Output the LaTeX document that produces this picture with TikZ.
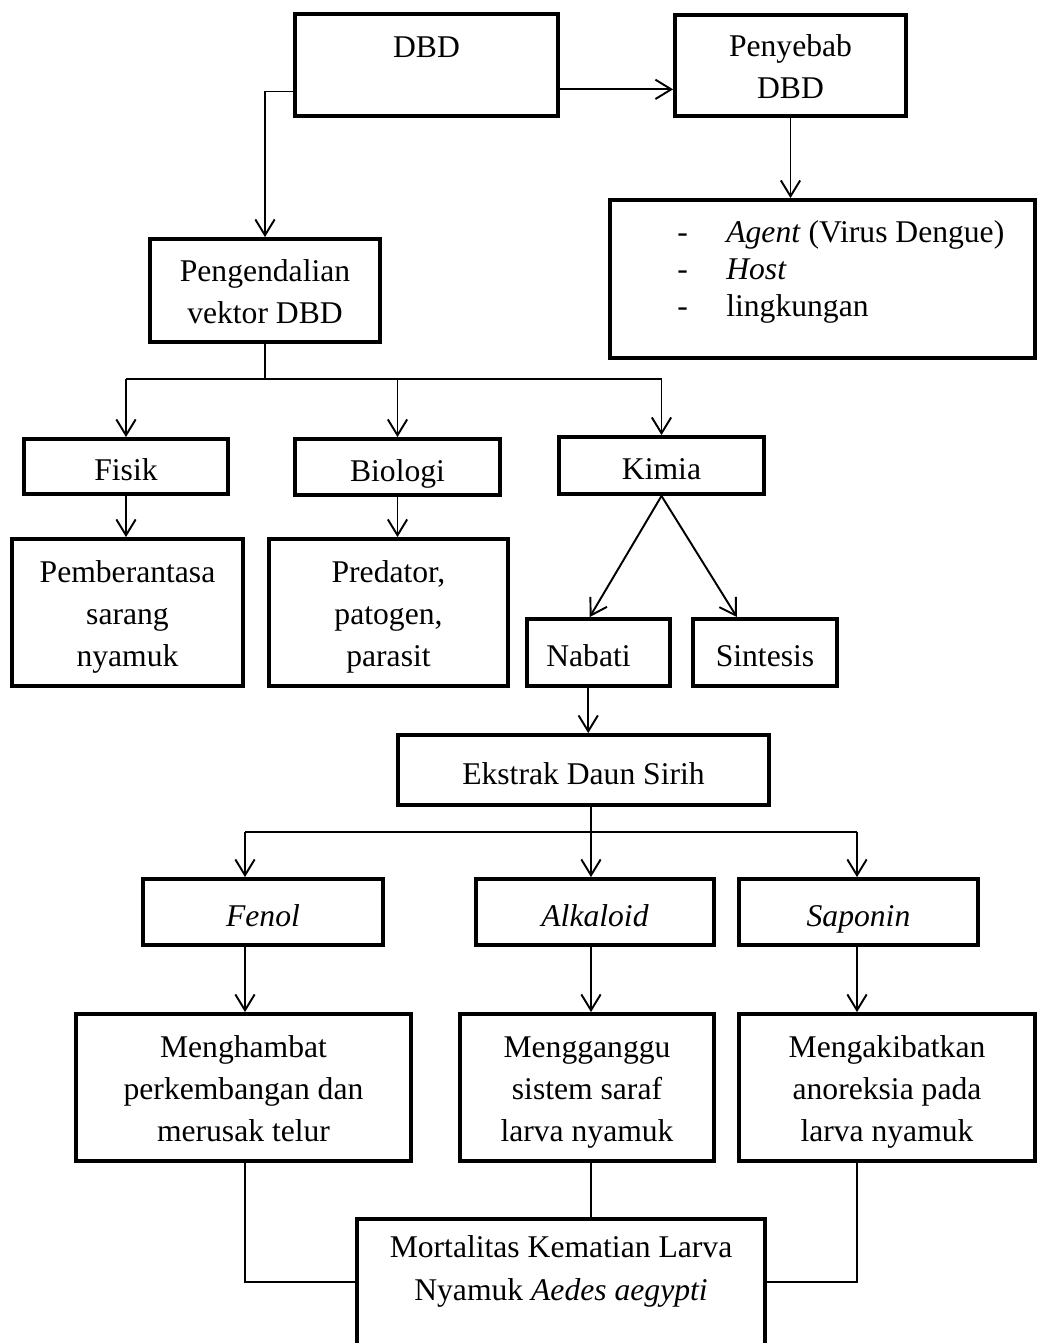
\documentclass[tikz,border=0pt]{standalone}
\usepackage{fontspec}
\setmainfont{Liberation Serif}
\usetikzlibrary{positioning, arrows.meta, calc}

\newcommand\boxstrut{\rule[-6pt]{0pt}{28pt}}
\newcommand\topstrut{\rule{0pt}{19.5pt}}

\tikzset{
	box/.style={draw, line width=2.2pt, align=center, inner sep=0pt,
		execute at begin node=\boxstrut, execute at end node=\boxstrut},
	txt/.style={inner sep=0pt, align=center},
	arr/.style={line width=1.1pt, -{Straight Barb[length=9pt,width=11pt,line width=1.1pt]}},
	link/.style={line width=0.7pt},
}

\begin{document}
\begin{tikzpicture}[x=0.02cm, y=-0.02cm, font=\fontsize{18}{24}\selectfont]
		\useasboundingbox (0,0) rectangle (1037,1343);

		% top row
		\node[box, minimum width=5.26cm, minimum height=2.04cm] (dbd) at (426.5,65) {};
		\node[txt] (dbdtext) at (426.5,47) {DBD};
		\node[box, minimum width=4.62cm, minimum height=2.02cm] (peny) at (790.5,65.5) {\topstrut Penyebab\\DBD};
		\node[box, minimum width=8.5cm, minimum height=3.16cm] (faktor) at (822.5,279) {};
		\node[txt, align=left, anchor=west, font=\fontsize{18}{21}\selectfont] (faktortext) at (677,272)
			{\makebox[0.98cm][l]{-}\textit{Agent} (Virus Dengue)\\
			 \makebox[0.98cm][l]{-}\textit{Host}\\
			 \makebox[0.98cm][l]{-}lingkungan};
		\node[box, minimum width=4.6cm, minimum height=2.06cm] (peng) at (265,290.5) {\topstrut Pengendalian\\vektor DBD};

		% pengendalian
		\node[box, minimum width=4.08cm, minimum height=1.1cm] (fisik) at (126,466.5) {Fisik};
		\node[box, minimum width=4.1cm, minimum height=1.12cm] (bio) at (397.5,467) {Biologi};
		\node[box, minimum width=4.1cm, minimum height=1.14cm] (kimia) at (661.5,465.5) {Kimia};
		\node[box, minimum width=4.62cm, minimum height=2.94cm] (pember) at (127.5,612.5) {\topstrut Pemberantasa\\sarang\\nyamuk};
		\node[box, minimum width=4.78cm, minimum height=2.94cm] (pred) at (388.5,612.5) {\topstrut Predator,\\patogen,\\parasit};
		\node[box, minimum width=2.86cm, minimum height=1.34cm] (nabati) at (598.5,652.5) {Nabati\hspace{0.4cm}};
		\node[box, minimum width=2.88cm, minimum height=1.34cm] (sint) at (765,652.5) {Sintesis};

		% daun sirih
		\node[box, minimum width=7.42cm, minimum height=1.4cm] (ekstrak) at (583.5,770) {Ekstrak Daun Sirih};
		\node[box, minimum width=4.8cm, minimum height=1.32cm] (fenol) at (263,912) {\textit{Fenol}};
		\node[box, minimum width=4.76cm, minimum height=1.32cm] (alk) at (595,912) {\textit{Alkaloid}};
		\node[box, minimum width=4.78cm, minimum height=1.32cm] (sap) at (858.5,912) {\textit{Saponin}};
		\node[box, minimum width=6.7cm, minimum height=2.94cm] (mhb) at (243.5,1087.5) {\topstrut Menghambat\\perkembangan dan\\merusak telur};
		\node[box, minimum width=5.08cm, minimum height=2.94cm] (mgg) at (587,1087.5) {\topstrut Mengganggu\\sistem saraf\\larva nyamuk};
		\node[box, minimum width=5.92cm, minimum height=2.94cm] (mak) at (887,1087.5) {\topstrut Mengakibatkan\\anoreksia pada\\larva nyamuk};
		\node[box, minimum width=8.16cm, minimum height=3.64cm] (mort) at (561,1310) {};
		\node[txt] (morttext) at (561,1271.5) {Mortalitas Kematian Larva\\Nyamuk \textit{Aedes aegypti}};

		% connectors
		\coordinate (dbdL) at ($(dbd.south west)!0.25!(dbd.north west)$);
		\coordinate (dbdR) at ($(dbd.south east)!0.27!(dbd.north east)$);
		\draw[arr] (dbdL) -| (peng.north);
		\draw[arr] (dbdR) -- (dbdR -| peny.west);
		\draw[arr] (peny.south) -- (peny.south |- faktor.north);

		\coordinate (cab1) at (265,379);
		\draw[link] (peng.south) -- (cab1);
		\draw[link] (fisik.north |- cab1) -- (kimia.north |- cab1);
		\foreach \n in {fisik, bio, kimia}
			\draw[arr] (\n.north |- cab1) -- (\n.north);
		\foreach \a/\b in {fisik/pember, bio/pred}
			\draw[arr] (\a.south) -- (\a.south |- \b.north);
		\draw[arr] (kimia.south) -- ($(nabati.north west)!0.44!(nabati.north east)$);
		\draw[arr] (kimia.south) -- ($(sint.north west)!0.31!(sint.north east)$);
		\coordinate (nabB) at ($(nabati.south west)!0.43!(nabati.south east)$);
		\draw[arr] (nabB) -- (nabB |- ekstrak.north);

		\coordinate (cab2) at (591,832);
		\coordinate (colF) at (245,832);
		\coordinate (colS) at (857,832);
		\draw[link] (cab2 |- ekstrak.south) -- (cab2);
		\draw[link] (colF) -- (colS);
		\foreach \c/\n in {colF/fenol, cab2/alk, colS/sap}
			\draw[arr] (\c) -- (\c |- \n.north);
		\foreach \c/\a/\b in {colF/fenol/mhb, cab2/alk/mgg, colS/sap/mak}
			\draw[arr] (\c |- \a.south) -- (\c |- \b.north);

		\draw[link] (colF |- mhb.south) |- ($(mort.north west)+(0,65)$);
		\draw[link] (cab2 |- mgg.south) -- (cab2 |- mort.north);
		\draw[link] (colS |- mak.south) |- ($(mort.north east)+(0,65)$);
\end{tikzpicture}
\end{document}
